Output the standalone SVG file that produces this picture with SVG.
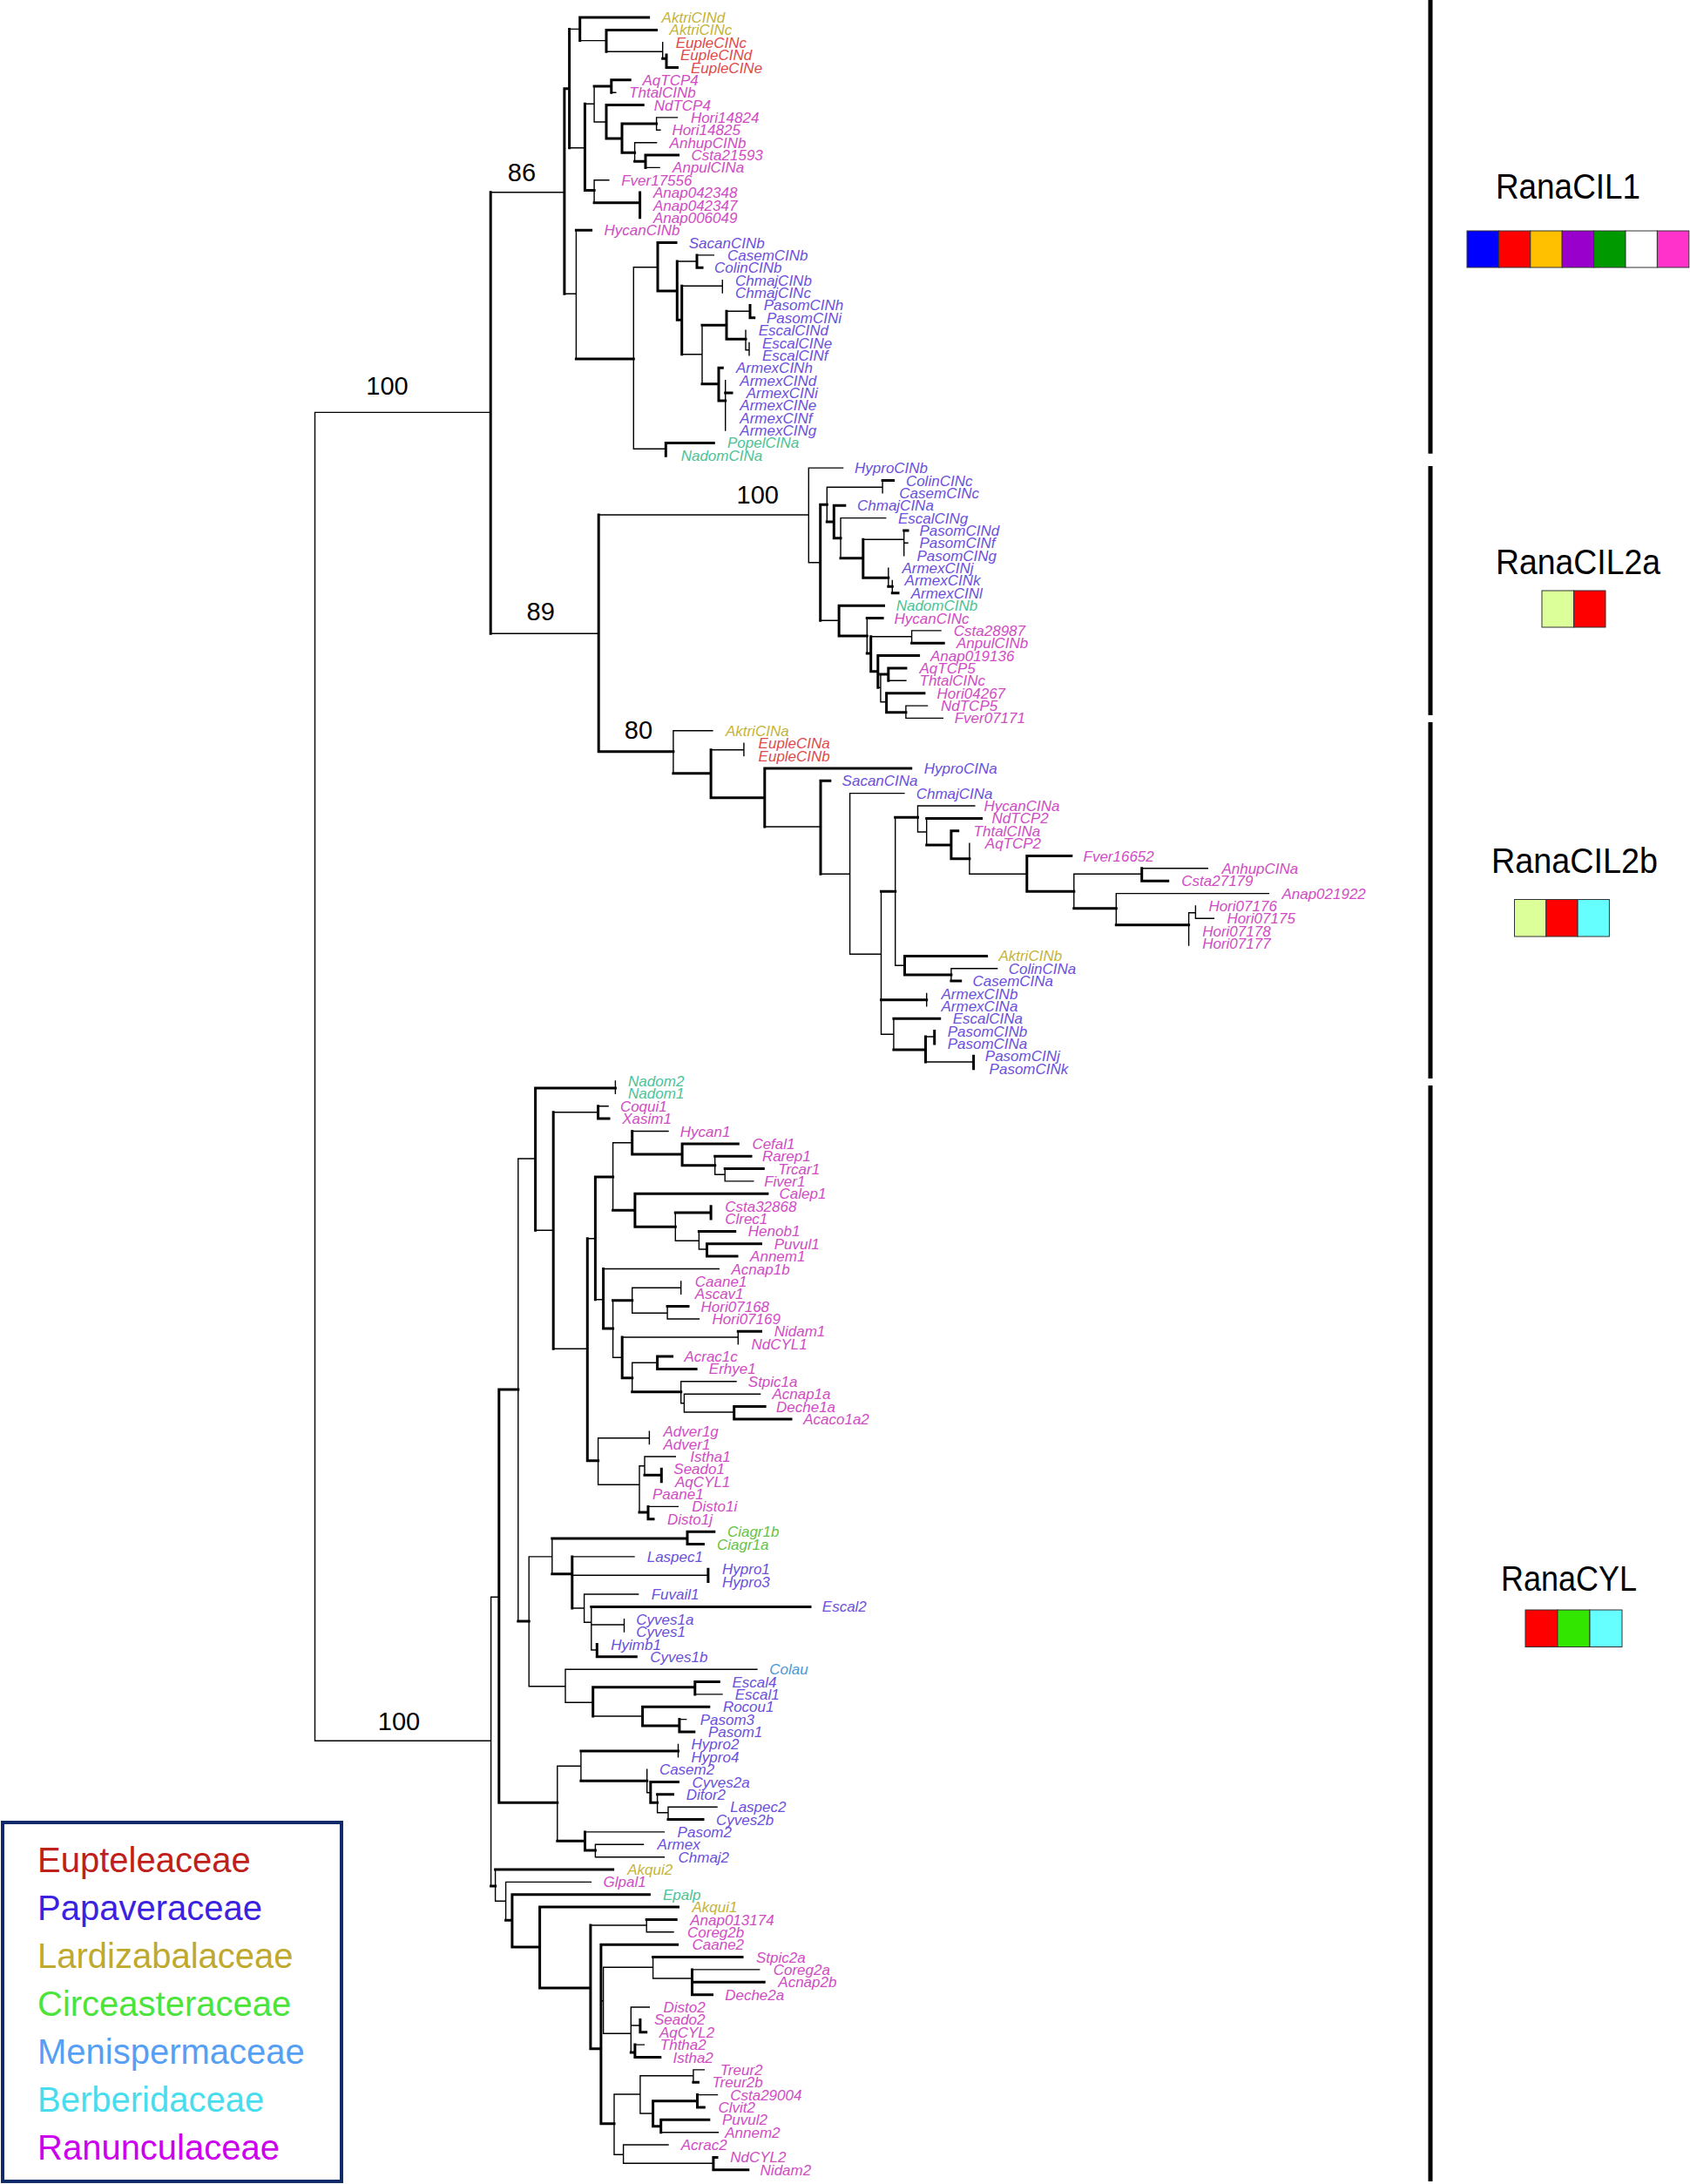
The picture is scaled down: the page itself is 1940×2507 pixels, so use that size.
<svg xmlns="http://www.w3.org/2000/svg" width="1940" height="2507" viewBox="0 0 1940 2507">
<style>
.tn{fill:none;stroke:#000;stroke-width:1.4;stroke-linecap:square}
.tk{fill:none;stroke:#000;stroke-width:3;stroke-linecap:square}
.lb text{font-family:"Liberation Sans",Arial,sans-serif;font-style:italic;font-size:17px}
.R{fill:#D04CC4}.P{fill:#6A50DC}.L{fill:#C4B43A}.E{fill:#E04A4A}.B{fill:#4CC397}.C{fill:#66C244}.M{fill:#4A98D8}
.bs{font-family:"Liberation Sans",Arial,sans-serif;font-size:29px;fill:#000;text-anchor:middle}
.cl{font-family:"Liberation Sans",Arial,sans-serif;font-size:40px;fill:#000}
.lg{font-family:"Liberation Sans",Arial,sans-serif;font-size:40px}
.cell{stroke:#333;stroke-width:1}
</style>
<rect width="1940" height="2507" fill="#fff"/>
<g id="connectors">
<path class="tn" d="M361.5 473.4V1998.3M361.5 473.4H563.2M361.5 1998.3H563.6M563.2 220.7H647.9M563.2 727.3H687.2
M653.6 33.4H665.7M665.7 46.6H696M696 59.3H760.7M760.7 48.7V67.2M653.6 169.7H671.4M671.4 119.3H682.1M682.1 99V140M701.8 106.2H706.8M682.1 140H696M753.6 134.9V149.3M753.6 134.9H777.5M753.6 149.3H757.9M728.6 163.7V185.2M728.6 163.7H753.6M741 192.4H757.1M682.1 206.7V232.8M682.1 206.7H698.9
M647.9 337.2H661.4M661.4 264.2V412M727.3 306.7V515.3M727.3 306.7H755M777.3 300H800M800 292.9H819.3M782.7 328.3H829.3M829.3 321.7V336M782.7 406.7H806M806 373.3V440.7M834 357.3H861M856 379.1V401.7M856 401.7H860M860 393.5V407.9M832.7 436.6V494M727.3 515.3H764.3
M687.2 591H928.3M928.3 537.1V645.7M928.3 537.1H967.6M928.3 645.7H941.7M949.3 559.3V599M949.3 559.3H1013.1M1013.1 551.5V565.9M965 594.6V640.7M965 594.6H1016.7M990.8 619.3H1037.7M1037.7 609V637.7M1037.7 623.3H1042M1019.8 652.1V673.3M1024.3 666.4V680.8M941.7 712.3H963.1M995.3 709.5V750M999.7 730.7H1046.6M1046.6 723.9V738.3M1046.6 723.9H1080M1007.8 789.3H1010.9M1010.9 774V805.7M1019.8 781.3H1039.9M1010.9 805.7H1017.6M1039.9 810.1V824.4M1039.9 810.1H1064.5M1039.9 824.4H1082.3
M772.9 838.8V887.7M772.9 838.8H817.9M816.1 860.7H853.9M853.9 853.2V867.5M877.8 949H942M942 1003.3H975.6M975.6 910.6V1095.3M975.6 910.6H1037.9M975.6 1095.3H1011.5M1011.5 1023.3V1187.3M1027.7 938.3V1108.3M1053.5 925V955M1053.5 925H1118.8M1053.5 955H1063.7M1063.7 939.4V970M1112.9 968.1V1003.3M1112.9 1003.3H1178.8M1232.8 1003.3V1042.7M1232.8 1003.3H1310.7M1310.7 996.8H1386.3M1281.3 1025.6V1061.7M1281.3 1025.6H1456.4M1364.6 1047.7V1085M1364.6 1047.7H1372.4M1372.4 1039.9V1054.3M1372.4 1054.3H1393.4M1027.7 1108.3H1038.5M1091.9 1111.7V1126.1M1091.9 1111.7H1144.6M1063.7 1140.5V1154.8M1011.5 1187.3H1025.9M1025.9 1169.2V1205M1062.5 1190H1072.7M1062.5 1219H1117.6
M563.6 1833.3V2165M563.6 1833.3H572.8M594.8 1330V1861M594.8 1330H614.6M706.4 1241V1255.4M614.6 1412.3H635.2M635.2 1276.7H686.6M686.6 1269.8H698.1M635.2 1548.3H674.3M674.3 1421.7H683.4M703.6 1311.7V1389.3M703.6 1311.7H725.7M725.7 1298.5H767M820.7 1327.2V1348.3M820.7 1348.3H832.2M832.2 1341.6V1355.9M832.2 1355.9H864.8M775.3 1392V1424.3M775.3 1424.3H802.4M802.4 1413.4V1434M802.4 1434H811.5M683.4 1491.7H692.6M692.6 1456.5H825.3M703.6 1492.7V1558.3M725.7 1478.3V1507.3M725.7 1478.3H781.7M781.7 1470.9V1485.2M725.7 1507.3H766.1M766.1 1499.6V1514M766.1 1514H802.4M703.6 1558.3H714.2M714.2 1535H847.3M847.3 1528.3V1542.7M725.7 1564.3V1597.7M725.7 1564.3H754.6M781.7 1585.8V1610.7M781.7 1585.8H845M781.7 1610.7H785.4M785.4 1600.2V1621M785.4 1600.2H872.6M785.4 1621H842.7M686.6 1650.7V1704.3M686.6 1650.7H745.4M745.4 1643.2V1657.6M686.6 1704.3H734M734 1682.7V1736M734 1682.7H740M740 1672V1693.3M740 1672H775.3M744 1729.4H778.3
M607.2 1786.9V1935.7M607.2 1786.9H633.8M633.8 1766V1806.7M656.8 1786.9H728M656.8 1808.3H812.9M656.8 1846H670.6M670.6 1830V1862.3M670.6 1830H732.6M670.6 1862.3H678.8M678.8 1844.4V1894M678.8 1865H716.5M716.5 1858.7V1873.1M678.8 1894H685.3M607.2 1935.7H649M649 1916.2V1954.3M649 1916.2H868.9M649 1954.3H680.7M797.8 1944.9H829M680.7 1970H737.6M779.9 1973.6H787.7
M639.8 2027.3V2113.3M639.8 2027.3H666.9M666.9 2010V2044.3M778.5 2002.4V2016.7M742.7 2031.1V2057.7M742.7 2057.7H746.8M754.6 2059.8V2080.7M754.6 2080.7H767M767 2074.2V2088.6M767 2074.2H823M671.5 2102.9H762.4M683.4 2117.3V2131.7M683.4 2117.3H738.5M683.4 2131.7H762.4
M568.6 2146V2182.3M568.6 2182.3H580.6M580.6 2160.4V2204.3M580.6 2160.4H678.4M677.9 2210H742.2M742.2 2203.5V2217.8M742.2 2217.8H773M689.9 2296.7H692.6M692.6 2258.3V2334.3M692.6 2258.3H749.6M749.6 2246.6V2271M749.6 2271H794.5M794.5 2260.9H871.7M692.6 2334.3H724.3M724.3 2304V2356M724.3 2304H745.4M724.3 2325H734.9M728.9 2347.1H739.4M705 2404V2473.3M705 2404H734.9M734.9 2382.7V2426M734.9 2382.7H795.9M795.9 2375.9V2390.2M795.9 2375.9H808.3M734.9 2426H749.6M800.5 2404.6H823.5M758.7 2447.7H824.4M705 2473.3H715.6M715.6 2462V2483.3M715.6 2462H767M715.6 2483.3H818.9"/>
<path class="tk" d="M563.2 220.7V727.3M647.9 101.7V337.2M647.9 101.7H653.6M653.6 33.4V169.7M665.7 20V46.6M665.7 20H744.6M696 34.4V59.3M696 34.4H753.6M760.7 67.2H765M765 63.1V77.5M765 77.5H777.5M671.4 119.3V218.6M682.1 99H701.8M701.8 91.8V106.2M701.8 91.8H723.2M696 120.6V159M696 120.6H738.2M696 159H714M714 142V175.2M714 142H753.6M714 175.2H728.6M728.6 185.2H741M741 178V192.4M741 178H778.6M671.4 218.6H682.1M682.1 232.8H734.6M734.6 221.1V249.8
M661.4 264.2H678.6M661.4 412H727.3M755 278.6V334M755 278.6H776M755 334H777.3M777.3 300V367.3M800 292.9V307.3M800 307.3H806M777.3 367.3H782.7M782.7 328.3V406.7M806 373.3H834M834 357.3V389.3M861 350.4V364.8M861 364.8H865.7M834 389.3H856M806 440.7H825M825 422.2V460M825 422.2H829.3M825 460H832.7M832.7 451H840M764.3 508.4V523.3M764.3 508.4H819.3
M687.2 591V862.7M941.7 579.3V712.3M941.7 579.3H949.3M1013.1 551.5H1025.6M949.3 599H957.3M957.3 580.2V617.7M957.3 580.2H969.8M957.3 617.7H965M965 640.7H990.8M990.8 619.3V663.3M1037.7 609H1042M990.8 663.3H1019.8M1019.8 673.3H1024.3M1024.3 680.8H1031M963.1 695.2V730M963.1 695.2H1014.5M963.1 730H995.3M995.3 709.5H1013.1M995.3 750H999.7M999.7 730.7V770.7M1046.6 738.3H1083.2M999.7 770.7H1007.8M1007.8 752.6V789.3M1007.8 752.6H1054.6M1010.9 774H1019.8M1019.8 767V781.3M1019.8 767H1039.9M1017.6 795.7V817.7M1017.6 795.7H1060.9M1017.6 817.7H1039.9
M687.2 862.7H772.9M772.9 887.7H816.1M816.1 860.7V915.7M816.1 915.7H877.8M877.8 881.9V949M877.8 881.9H1045.7M942 896.3V1003.3M942 896.3H952.8M1011.5 1023.3H1027.7M1027.7 938.3H1053.5M1063.7 939.4H1126.6M1063.7 970H1091.9M1091.9 953.7V985.7M1091.9 953.7H1099.7M1091.9 985.7H1112.9M1178.8 982.5V1023.3M1178.8 982.5H1229.8M1178.8 1023.3H1232.8M1310.7 996.8V1011.2M1310.7 1011.2H1340.7M1232.8 1042.7H1281.3M1281.3 1061.7H1364.6M1038.5 1097.4V1119M1038.5 1097.4H1132.6M1038.5 1119H1091.9M1091.9 1126.1H1102.7M1011.5 1147.7H1063.7M1025.9 1169.2H1078.7M1025.9 1205H1062.5M1062.5 1190V1219M1072.7 1183.6V1197.9M1117.6 1212.3V1226.7
M572.8 1595V2069.3M572.8 1595H594.8M614.6 1249V1412.3M614.6 1249H706.4M635.2 1276.7V1548.3M686.6 1269.8V1284.1M686.6 1284.1H699M674.3 1421.7V1676.7M683.4 1351V1491.7M683.4 1351H703.6M725.7 1298.5V1325M725.7 1325H783.1M783.1 1312.9V1337.7M783.1 1312.9H847.3M783.1 1337.7H820.7M820.7 1327.2H862M832.2 1341.6H876.3M703.6 1389.3H728.9M728.9 1370.3V1408.3M728.9 1370.3H880.9M728.9 1408.3H775.3M775.3 1392H816.1M816.1 1384.7V1399M802.4 1413.4H843.7M811.5 1427.8V1442.1M811.5 1427.8H873.5M811.5 1442.1H846M692.6 1456.5V1525M692.6 1525H703.6M703.6 1492.7H725.7M766.1 1499.6H790M714.2 1535V1581.7M847.3 1528.3H873.5M714.2 1581.7H725.7M754.6 1557.1V1571.4M754.6 1557.1H771.6M754.6 1571.4H799.1M725.7 1597.7H781.7M842.7 1614.5V1628.9M842.7 1614.5H878.1M842.7 1628.9H908M674.3 1676.7H686.6M740 1693.3H759.3M759.3 1686.3V1700.7M734 1736H744M744 1729.4V1743.8M744 1743.8H750
M594.8 1861H607.2M633.8 1766H789M789 1758.2V1772.5M789 1758.2H819.8M789 1772.5H807.4M633.8 1806.7H656.8M656.8 1786.9V1846M812.9 1801.3V1815.6M678.8 1844.4H930M685.3 1887.5V1901.8M685.3 1901.8H730.3M680.7 1936.7V1970M680.7 1936.7H797.8M797.8 1930.5V1944.9M797.8 1930.5H825.3M737.6 1959.3V1981M737.6 1959.3H813.8M737.6 1981H779.9M779.9 1973.6V1988M779.9 1988H796.8
M572.8 2069.3H639.8M666.9 2010H778.5M666.9 2044.3H742.7M746.8 2045.5V2069.3M746.8 2045.5H778.5M746.8 2069.3H754.6M754.6 2059.8H772.5M767 2088.6H807M639.8 2113.3H671.5M671.5 2102.9V2124M671.5 2124H683.4
M563.6 2165H568.6M568.6 2146H703.6M580.6 2204.3H587.9M587.9 2174.8V2235M587.9 2174.8H745.4M587.9 2235H619.6M619.6 2189.1V2282M619.6 2189.1H778.5M619.6 2282H677.9M677.9 2210V2351.7M742.2 2203.5H776.2M677.9 2351.7H689.9M689.9 2232.2V2437.7M689.9 2232.2H777.6M749.6 2246.6H852M794.5 2260.9V2289.7M794.5 2275.3H877.2M794.5 2289.7H817.5M734.9 2318.4V2332.8M734.9 2332.8H741.7M724.3 2356H728.9M728.9 2347.1V2361.5M728.9 2361.5H757.8M689.9 2437.7H705M795.9 2390.2H801.4M749.6 2411.7V2440.7M749.6 2411.7H800.5M800.5 2404.6V2418.9M800.5 2418.9H808.3M749.6 2440.7H758.7M758.7 2433.3V2447.7M758.7 2433.3H813.8M818.9 2476.4V2490.8M818.9 2476.4H823M818.9 2490.8H858.8"/>
</g>
<g id="bootstrap">
<text class="bs" x="444.5" y="452.5">100</text>
<text class="bs" x="599" y="208">86</text>
<text class="bs" x="869.8" y="578.3">100</text>
<text class="bs" x="620.7" y="711.7">89</text>
<text class="bs" x="733" y="848.3">80</text>
<text class="bs" x="458" y="1985.5">100</text>
</g>
<g class="lb">
<g id="leaf0" class="L"><text x="759.6" y="26">AktriCINd</text></g>
<g id="leaf1" class="L"><text x="768.6" y="40.4">AktriCINc</text></g>
<g id="leaf2" class="E"><text x="775.7" y="54.7">EupleCINc</text></g>
<g id="leaf3" class="E"><text x="781" y="69.1">EupleCINd</text></g>
<g id="leaf4" class="E"><text x="792.9" y="83.5">EupleCINe</text></g>
<g id="leaf5" class="R"><text x="737.5" y="97.8">AqTCP4</text></g>
<g id="leaf6" class="R"><text x="722.1" y="112.2">ThtalCINb</text></g>
<g id="leaf7" class="R"><text x="750.7" y="126.6">NdTCP4</text></g>
<g id="leaf8" class="R"><text x="792.9" y="140.9">Hori14824</text></g>
<g id="leaf9" class="R"><text x="771.4" y="155.3">Hori14825</text></g>
<g id="leaf10" class="R"><text x="768.6" y="169.7">AnhupCINb</text></g>
<g id="leaf11" class="R"><text x="793.6" y="184">Csta21593</text></g>
<g id="leaf12" class="R"><text x="772.1" y="198.4">AnpulCINa</text></g>
<g id="leaf13" class="R"><text x="713.2" y="212.7">Fver17556</text></g>
<g id="leaf14" class="R"><text x="750" y="227.1">Anap042348</text></g>
<g id="leaf15" class="R"><text x="750" y="241.5">Anap042347</text></g>
<g id="leaf16" class="R"><text x="750" y="255.8">Anap006049</text></g>
<g id="leaf17" class="R"><text x="693.6" y="270.2">HycanCINb</text></g>
<g id="leaf18" class="P"><text x="790.7" y="284.6">SacanCINb</text></g>
<g id="leaf19" class="P"><text x="835" y="298.9">CasemCINb</text></g>
<g id="leaf20" class="P"><text x="820" y="313.3">ColinCINb</text></g>
<g id="leaf21" class="P"><text x="844" y="327.7">ChmajCINb</text></g>
<g id="leaf22" class="P"><text x="844" y="342">ChmajCINc</text></g>
<g id="leaf23" class="P"><text x="876.7" y="356.4">PasomCINh</text></g>
<g id="leaf24" class="P"><text x="880" y="370.8">PasomCINi</text></g>
<g id="leaf25" class="P"><text x="870.7" y="385.1">EscalCINd</text></g>
<g id="leaf26" class="P"><text x="875" y="399.5">EscalCINe</text></g>
<g id="leaf27" class="P"><text x="875" y="413.9">EscalCINf</text></g>
<g id="leaf28" class="P"><text x="845" y="428.2">ArmexCINh</text></g>
<g id="leaf29" class="P"><text x="849.3" y="442.6">ArmexCINd</text></g>
<g id="leaf30" class="P"><text x="856.7" y="457">ArmexCINi</text></g>
<g id="leaf31" class="P"><text x="849.3" y="471.3">ArmexCINe</text></g>
<g id="leaf32" class="P"><text x="849.3" y="485.7">ArmexCINf</text></g>
<g id="leaf33" class="P"><text x="849.3" y="500">ArmexCINg</text></g>
<g id="leaf34" class="B"><text x="835" y="514.4">PopelCINa</text></g>
<g id="leaf35" class="B"><text x="781.7" y="528.8">NadomCINa</text></g>
<g id="leaf36" class="P"><text x="981" y="543.1">HyproCINb</text></g>
<g id="leaf37" class="P"><text x="1039.9" y="557.5">ColinCINc</text></g>
<g id="leaf38" class="P"><text x="1032.3" y="571.9">CasemCINc</text></g>
<g id="leaf39" class="P"><text x="984" y="586.2">ChmajCINa</text></g>
<g id="leaf40" class="P"><text x="1031" y="600.6">EscalCINg</text></g>
<g id="leaf41" class="P"><text x="1055.5" y="615">PasomCINd</text></g>
<g id="leaf42" class="P"><text x="1055.5" y="629.3">PasomCINf</text></g>
<g id="leaf43" class="P"><text x="1052.4" y="643.7">PasomCINg</text></g>
<g id="leaf44" class="P"><text x="1035.4" y="658.1">ArmexCINj</text></g>
<g id="leaf45" class="P"><text x="1038.6" y="672.4">ArmexCINk</text></g>
<g id="leaf46" class="P"><text x="1045.7" y="686.8">ArmexCINl</text></g>
<g id="leaf47" class="B"><text x="1028.7" y="701.2">NadomCINb</text></g>
<g id="leaf48" class="R"><text x="1026.5" y="715.5">HycanCINc</text></g>
<g id="leaf49" class="R"><text x="1094.8" y="729.9">Csta28987</text></g>
<g id="leaf50" class="R"><text x="1098" y="744.3">AnpulCINb</text></g>
<g id="leaf51" class="R"><text x="1068" y="758.6">Anap019136</text></g>
<g id="leaf52" class="R"><text x="1055.5" y="773">AqTCP5</text></g>
<g id="leaf53" class="R"><text x="1055.5" y="787.3">ThtalCINc</text></g>
<g id="leaf54" class="R"><text x="1075.6" y="801.7">Hori04267</text></g>
<g id="leaf55" class="R"><text x="1080" y="816.1">NdTCP5</text></g>
<g id="leaf56" class="R"><text x="1095.7" y="830.4">Fver07171</text></g>
<g id="leaf57" class="L"><text x="832.9" y="844.8">AktriCINa</text></g>
<g id="leaf58" class="E"><text x="870.6" y="859.2">EupleCINa</text></g>
<g id="leaf59" class="E"><text x="870.6" y="873.5">EupleCINb</text></g>
<g id="leaf60" class="P"><text x="1060.7" y="887.9">HyproCINa</text></g>
<g id="leaf61" class="P"><text x="966.6" y="902.3">SacanCINa</text></g>
<g id="leaf62" class="P"><text x="1051.7" y="916.6">ChmajCINa</text></g>
<g id="leaf63" class="R"><text x="1129.6" y="931">HycanCINa</text></g>
<g id="leaf64" class="R"><text x="1138.6" y="945.4">NdTCP2</text></g>
<g id="leaf65" class="R"><text x="1117.6" y="959.7">ThtalCINa</text></g>
<g id="leaf66" class="R"><text x="1130.8" y="974.1">AqTCP2</text></g>
<g id="leaf67" class="R"><text x="1243.5" y="988.5">Fver16652</text></g>
<g id="leaf68" class="R"><text x="1402.4" y="1002.8">AnhupCINa</text></g>
<g id="leaf69" class="R"><text x="1356.3" y="1017.2">Csta27179</text></g>
<g id="leaf70" class="R"><text x="1471.4" y="1031.6">Anap021922</text></g>
<g id="leaf71" class="R"><text x="1387.4" y="1045.9">Hori07176</text></g>
<g id="leaf72" class="R"><text x="1408.4" y="1060.3">Hori07175</text></g>
<g id="leaf73" class="R"><text x="1380.2" y="1074.6">Hori07178</text></g>
<g id="leaf74" class="R"><text x="1380.2" y="1089">Hori07177</text></g>
<g id="leaf75" class="L"><text x="1146.4" y="1103.4">AktriCINb</text></g>
<g id="leaf76" class="P"><text x="1157.8" y="1117.7">ColinCINa</text></g>
<g id="leaf77" class="P"><text x="1116.5" y="1132.1">CasemCINa</text></g>
<g id="leaf78" class="P"><text x="1080.5" y="1146.5">ArmexCINb</text></g>
<g id="leaf79" class="P"><text x="1080.5" y="1160.8">ArmexCINa</text></g>
<g id="leaf80" class="P"><text x="1093.7" y="1175.2">EscalCINa</text></g>
<g id="leaf81" class="P"><text x="1087.7" y="1189.6">PasomCINb</text></g>
<g id="leaf82" class="P"><text x="1087.7" y="1203.9">PasomCINa</text></g>
<g id="leaf83" class="P"><text x="1130.8" y="1218.3">PasomCINj</text></g>
<g id="leaf84" class="P"><text x="1135.6" y="1232.7">PasomCINk</text></g>
<g id="leaf85" class="B"><text x="721.1" y="1247">Nadom2</text></g>
<g id="leaf86" class="B"><text x="721.1" y="1261.4">Nadom1</text></g>
<g id="leaf87" class="R"><text x="711.9" y="1275.8">Coqui1</text></g>
<g id="leaf88" class="R"><text x="714.2" y="1290.1">Xasim1</text></g>
<g id="leaf89" class="R"><text x="780.8" y="1304.5">Hycan1</text></g>
<g id="leaf90" class="R"><text x="863.4" y="1318.9">Cefal1</text></g>
<g id="leaf91" class="R"><text x="874.9" y="1333.2">Rarep1</text></g>
<g id="leaf92" class="R"><text x="893.3" y="1347.6">Trcar1</text></g>
<g id="leaf93" class="R"><text x="877.2" y="1361.9">Fiver1</text></g>
<g id="leaf94" class="R"><text x="894.6" y="1376.3">Calep1</text></g>
<g id="leaf95" class="R"><text x="832.2" y="1390.7">Csta32868</text></g>
<g id="leaf96" class="R"><text x="832.2" y="1405">Clrec1</text></g>
<g id="leaf97" class="R"><text x="858.8" y="1419.4">Henob1</text></g>
<g id="leaf98" class="R"><text x="888.7" y="1433.8">Puvul1</text></g>
<g id="leaf99" class="R"><text x="861.1" y="1448.1">Annem1</text></g>
<g id="leaf100" class="R"><text x="839.5" y="1462.5">Acnap1b</text></g>
<g id="leaf101" class="R"><text x="797.8" y="1476.9">Caane1</text></g>
<g id="leaf102" class="R"><text x="797.8" y="1491.2">Ascav1</text></g>
<g id="leaf103" class="R"><text x="804.6" y="1505.6">Hori07168</text></g>
<g id="leaf104" class="R"><text x="817.5" y="1520">Hori07169</text></g>
<g id="leaf105" class="R"><text x="888.7" y="1534.3">Nidam1</text></g>
<g id="leaf106" class="R"><text x="862.5" y="1548.7">NdCYL1</text></g>
<g id="leaf107" class="R"><text x="785.4" y="1563.1">Acrac1c</text></g>
<g id="leaf108" class="R"><text x="813.8" y="1577.4">Erhye1</text></g>
<g id="leaf109" class="R"><text x="858.8" y="1591.8">Stpic1a</text></g>
<g id="leaf110" class="R"><text x="886.4" y="1606.2">Acnap1a</text></g>
<g id="leaf111" class="R"><text x="891" y="1620.5">Deche1a</text></g>
<g id="leaf112" class="R"><text x="922.2" y="1634.9">Acaco1a2</text></g>
<g id="leaf113" class="R"><text x="761.5" y="1649.2">Adver1g</text></g>
<g id="leaf114" class="R"><text x="761.5" y="1663.6">Adver1</text></g>
<g id="leaf115" class="R"><text x="792.3" y="1678">Istha1</text></g>
<g id="leaf116" class="R"><text x="773.3" y="1692.3">Seado1</text></g>
<g id="leaf117" class="R"><text x="775" y="1706.7">AqCYL1</text></g>
<g id="leaf118" class="R"><text x="749" y="1721.1">Paane1</text></g>
<g id="leaf119" class="R"><text x="794.3" y="1735.4">Disto1i</text></g>
<g id="leaf120" class="R"><text x="766" y="1749.8">Disto1j</text></g>
<g id="leaf121" class="C"><text x="834.9" y="1764.2">Ciagr1b</text></g>
<g id="leaf122" class="C"><text x="823" y="1778.5">Ciagr1a</text></g>
<g id="leaf123" class="P"><text x="742.7" y="1792.9">Laspec1</text></g>
<g id="leaf124" class="P"><text x="829" y="1807.3">Hypro1</text></g>
<g id="leaf125" class="P"><text x="829" y="1821.6">Hypro3</text></g>
<g id="leaf126" class="P"><text x="747.7" y="1836">Fuvail1</text></g>
<g id="leaf127" class="P"><text x="943.8" y="1850.4">Escal2</text></g>
<g id="leaf128" class="P"><text x="730.3" y="1864.7">Cyves1a</text></g>
<g id="leaf129" class="P"><text x="730.3" y="1879.1">Cyves1</text></g>
<g id="leaf130" class="P"><text x="701.3" y="1893.5">Hyimb1</text></g>
<g id="leaf131" class="P"><text x="746.3" y="1907.8">Cyves1b</text></g>
<g id="leaf132" class="M"><text x="883.2" y="1922.2">Colau</text></g>
<g id="leaf133" class="P"><text x="840.5" y="1936.5">Escal4</text></g>
<g id="leaf134" class="P"><text x="843.7" y="1950.9">Escal1</text></g>
<g id="leaf135" class="P"><text x="829.9" y="1965.3">Rocou1</text></g>
<g id="leaf136" class="P"><text x="803.7" y="1979.6">Pasom3</text></g>
<g id="leaf137" class="P"><text x="812.9" y="1994">Pasom1</text></g>
<g id="leaf138" class="P"><text x="793.6" y="2008.4">Hypro2</text></g>
<g id="leaf139" class="P"><text x="793.6" y="2022.7">Hypro4</text></g>
<g id="leaf140" class="P"><text x="756.9" y="2037.1">Casem2</text></g>
<g id="leaf141" class="P"><text x="794.5" y="2051.5">Cyves2a</text></g>
<g id="leaf142" class="P"><text x="787.7" y="2065.8">Ditor2</text></g>
<g id="leaf143" class="P"><text x="838.2" y="2080.2">Laspec2</text></g>
<g id="leaf144" class="P"><text x="822.1" y="2094.6">Cyves2b</text></g>
<g id="leaf145" class="P"><text x="777.6" y="2108.9">Pasom2</text></g>
<g id="leaf146" class="P"><text x="754.6" y="2123.3">Armex</text></g>
<g id="leaf147" class="P"><text x="778.5" y="2137.7">Chmaj2</text></g>
<g id="leaf148" class="L"><text x="720.2" y="2152">Akqui2</text></g>
<g id="leaf149" class="R"><text x="692.6" y="2166.4">Glpal1</text></g>
<g id="leaf150" class="B"><text x="761" y="2180.8">Epalp</text></g>
<g id="leaf151" class="L"><text x="794.5" y="2195.1">Akqui1</text></g>
<g id="leaf152" class="R"><text x="792.2" y="2209.5">Anap013174</text></g>
<g id="leaf153" class="R"><text x="789" y="2223.8">Coreg2b</text></g>
<g id="leaf154" class="R"><text x="794.5" y="2238.2">Caane2</text></g>
<g id="leaf155" class="R"><text x="868" y="2252.6">Stpic2a</text></g>
<g id="leaf156" class="R"><text x="887.7" y="2266.9">Coreg2a</text></g>
<g id="leaf157" class="R"><text x="893.3" y="2281.3">Acnap2b</text></g>
<g id="leaf158" class="R"><text x="832.2" y="2295.7">Deche2a</text></g>
<g id="leaf159" class="R"><text x="761.5" y="2310">Disto2</text></g>
<g id="leaf160" class="R"><text x="750.9" y="2324.4">Seado2</text></g>
<g id="leaf161" class="R"><text x="756.9" y="2338.8">AqCYL2</text></g>
<g id="leaf162" class="R"><text x="757.8" y="2353.1">Ththa2</text></g>
<g id="leaf163" class="R"><text x="772.5" y="2367.5">Istha2</text></g>
<g id="leaf164" class="R"><text x="826.7" y="2381.9">Treur2</text></g>
<g id="leaf165" class="R"><text x="817.5" y="2396.2">Treur2b</text></g>
<g id="leaf166" class="R"><text x="838.2" y="2410.6">Csta29004</text></g>
<g id="leaf167" class="R"><text x="824.4" y="2424.9">Clvit2</text></g>
<g id="leaf168" class="R"><text x="829" y="2439.3">Puvul2</text></g>
<g id="leaf169" class="R"><text x="832.2" y="2453.7">Annem2</text></g>
<g id="leaf170" class="R"><text x="781.7" y="2468">Acrac2</text></g>
<g id="leaf171" class="R"><text x="838.2" y="2482.4">NdCYL2</text></g>
<g id="leaf172" class="R"><text x="872.6" y="2496.8">Nidam2</text></g>
</g>
<g id="clade-bars" fill="#000">
<rect x="1639.5" y="0" width="5" height="520.7"/>
<rect x="1639.5" y="535" width="5" height="286"/>
<rect x="1639.5" y="829" width="5" height="409"/>
<rect x="1639.5" y="1246" width="5" height="1258"/>
</g>
<g id="clade-RanaCIL1">
<text class="cl" x="1717" y="228" textLength="166" lengthAdjust="spacingAndGlyphs">RanaCIL1</text>
<rect class="cell" x="1684" y="265" width="36.4" height="42" fill="#0000FF"/>
<rect class="cell" x="1720.4" y="265" width="36.4" height="42" fill="#FF0000"/>
<rect class="cell" x="1756.8" y="265" width="36.4" height="42" fill="#FFC000"/>
<rect class="cell" x="1793.2" y="265" width="36.4" height="42" fill="#9900CC"/>
<rect class="cell" x="1829.6" y="265" width="36.4" height="42" fill="#009900"/>
<rect class="cell" x="1866" y="265" width="36.4" height="42" fill="#FFFFFF"/>
<rect class="cell" x="1902.4" y="265" width="36.4" height="42" fill="#FF33CC"/>
</g>
<g id="clade-RanaCIL2a">
<text class="cl" x="1717" y="659" textLength="189" lengthAdjust="spacingAndGlyphs">RanaCIL2a</text>
<rect class="cell" x="1770" y="678" width="36.5" height="42" fill="#DDFF99"/>
<rect class="cell" x="1806.5" y="678" width="36.5" height="42" fill="#FF0000"/>
</g>
<g id="clade-RanaCIL2b">
<text class="cl" x="1712" y="1001.5" textLength="191" lengthAdjust="spacingAndGlyphs">RanaCIL2b</text>
<rect class="cell" x="1738.5" y="1032.5" width="36.3" height="42.5" fill="#DDFF99"/>
<rect class="cell" x="1774.8" y="1032.5" width="36.3" height="42.5" fill="#FF0000"/>
<rect class="cell" x="1811.1" y="1032.5" width="36.3" height="42.5" fill="#66FFFF"/>
</g>
<g id="clade-RanaCYL">
<text class="cl" x="1723" y="1826" textLength="156" lengthAdjust="spacingAndGlyphs">RanaCYL</text>
<rect class="cell" x="1751" y="1848" width="37" height="42.5" fill="#FF0000"/>
<rect class="cell" x="1788" y="1848" width="37" height="42.5" fill="#33E600"/>
<rect class="cell" x="1825" y="1848" width="37" height="42.5" fill="#66FFFF"/>
</g>
<g id="legend">
<rect x="3" y="2092" width="389" height="412" fill="#fff" stroke="#102A6A" stroke-width="4"/>
<text class="lg" x="43" y="2149" fill="#C0201A">Eupteleaceae</text>
<text class="lg" x="43" y="2204" fill="#3A22E0">Papaveraceae</text>
<text class="lg" x="43" y="2258.5" fill="#BFA92F">Lardizabalaceae</text>
<text class="lg" x="43" y="2313.5" fill="#4AE43A">Circeasteraceae</text>
<text class="lg" x="43" y="2368.5" fill="#55A0F5">Menispermaceae</text>
<text class="lg" x="43" y="2423.5" fill="#48DDEE">Berberidaceae</text>
<text class="lg" x="43" y="2478.5" fill="#CC00EE">Ranunculaceae</text>
</g>
</svg>
